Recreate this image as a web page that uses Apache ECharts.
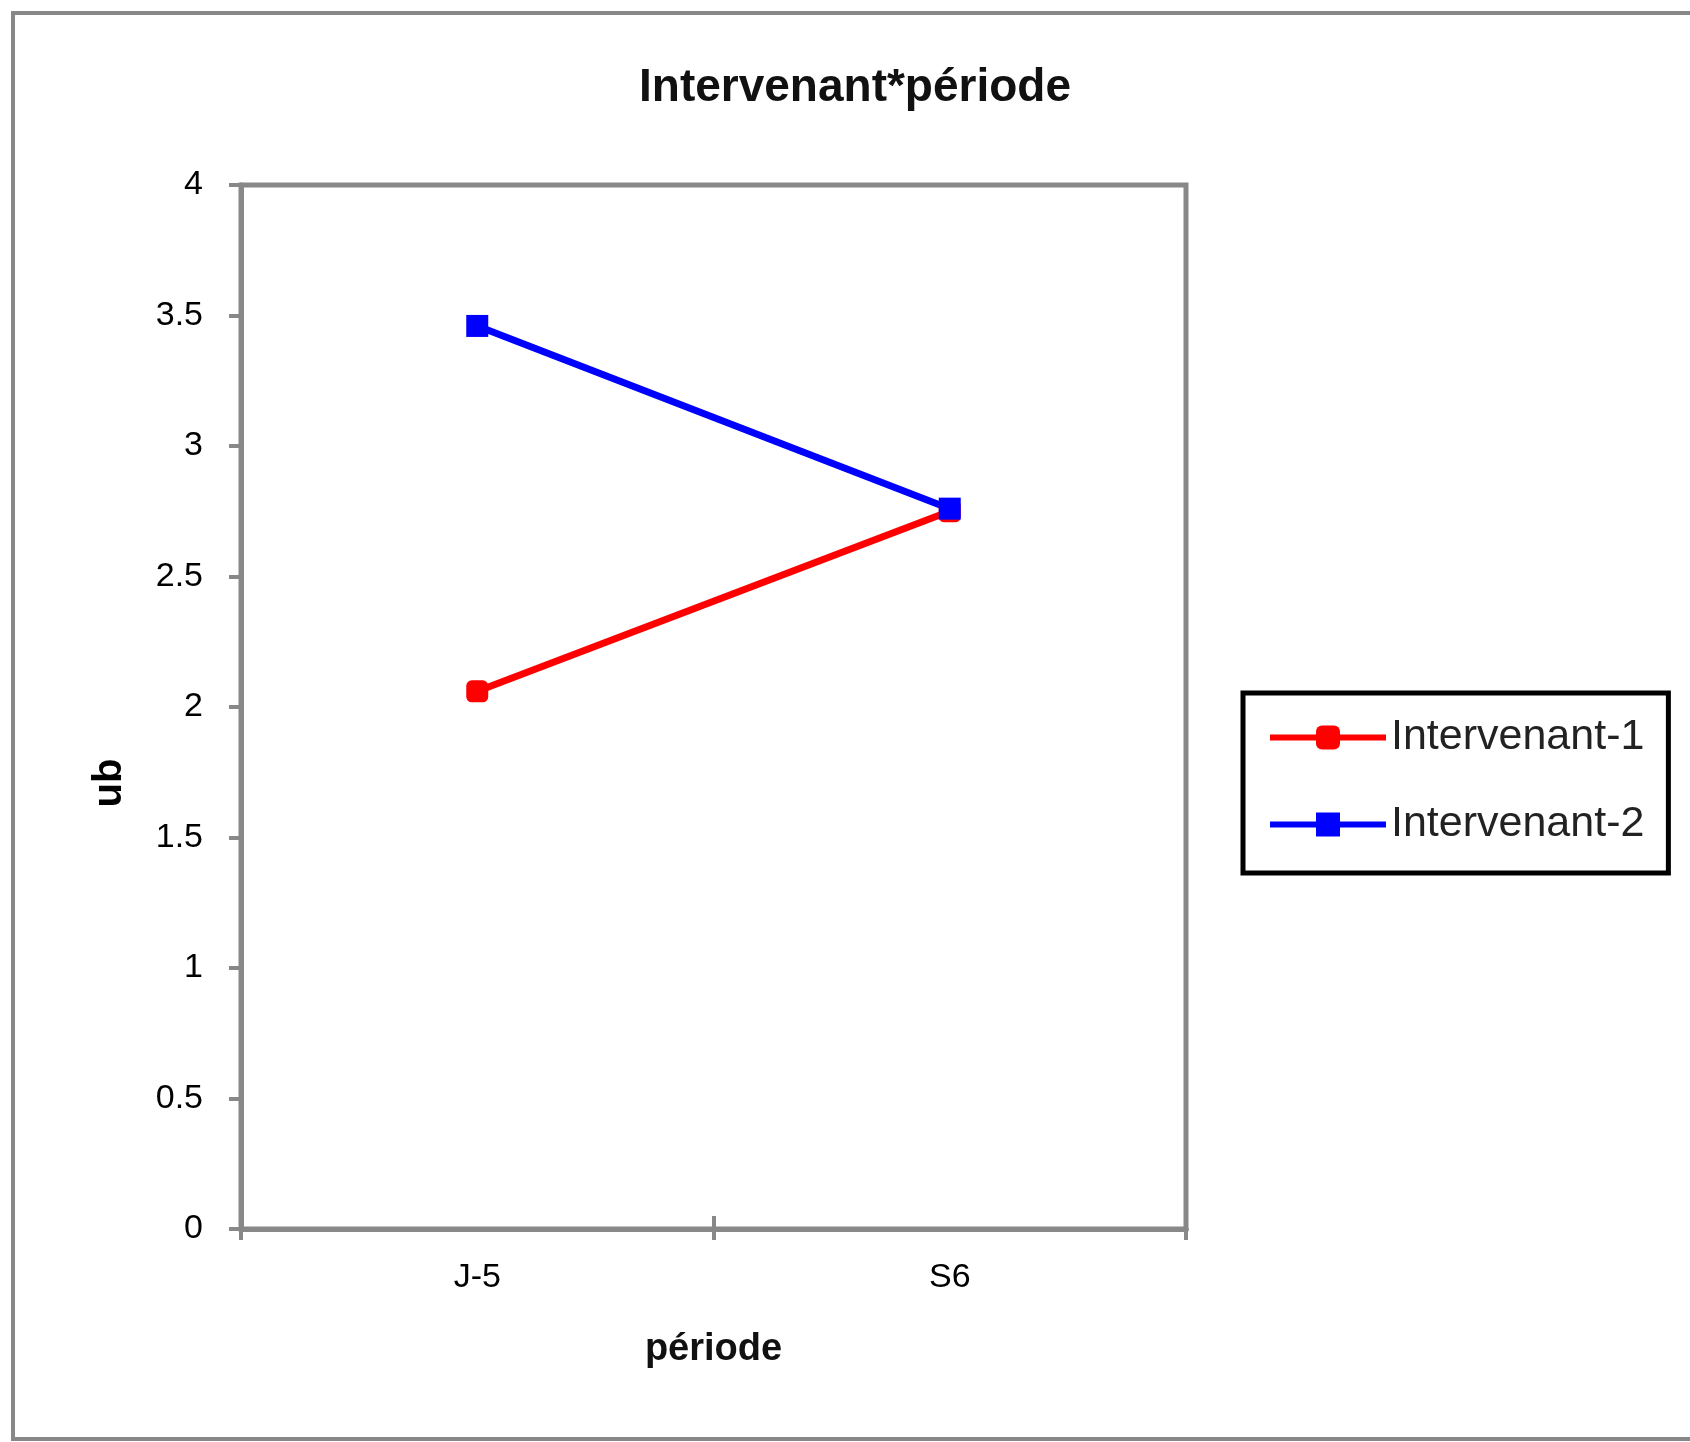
<!DOCTYPE html>
<html>
<head>
<meta charset="utf-8">
<script src="https://cdn.jsdelivr.net/npm/echarts@6/dist/echarts.min.js"></script>
<style>
html,body{margin:0;padding:0;background:#fff;}
#frame{position:absolute;left:11px;top:11px;width:1700px;height:1430px;border:4px solid #888;border-right:none;box-sizing:border-box;}
#chart{position:absolute;left:0;top:0;width:1690px;height:1442px;}
</style>
</head>
<body>
<div id="frame"></div>
<div id="chart"></div>
<script>
const titleText = 'Intervenant*période';
const categories = ['J-5', 'S6'];
const seriesNames = ['Intervenant-1', 'Intervenant-2'];
const values1 = [2.06, 2.75];
const values2 = [3.46, 2.76];
const yMin = 0, yMax = 4, yStep = 0.5;
const xName = 'période';
const yName = 'qn';

const FONT = '"Liberation Sans", Arial, sans-serif';
const chart = echarts.init(document.getElementById('chart'), null, {renderer: 'canvas'});
const grid = {left: 241, right: 504, top: 185, bottom: 213, show: true, borderColor: '#888', borderWidth: 5, containLabel: false};

chart.setOption({
  backgroundColor: 'transparent',
  animation: false,
  title: {
    text: titleText, left: 634, top: 60,
    textStyle: {fontFamily: FONT, fontSize: 46, fontWeight: 'bold', color: '#111'}
  },
  legend: {
    orient: 'vertical', left: 1243, top: 693,
    data: seriesNames,
    borderColor: '#000', borderWidth: 5, borderRadius: 0,
    padding: [23, 24, 27, 24],
    itemGap: 44, itemWidth: 116, itemHeight: 30,
    lineStyle: {width: 6},
    textStyle: {fontFamily: FONT, fontSize: 43, color: '#222'}
  },
  grid: grid,
  xAxis: [{
    type: 'category', data: categories, boundaryGap: true,
    name: xName, nameLocation: 'middle', nameGap: 102,
    nameTextStyle: {fontFamily: FONT, fontSize: 38, fontWeight: 'bold', color: '#111'},
    axisLine: {lineStyle: {color: '#888', width: 5}},
    axisTick: {show: true, inside: false, length: 11, lineStyle: {color: '#888', width: 4}},
    axisLabel: {fontFamily: FONT, fontSize: 34, color: '#000', margin: 32},
    splitLine: {show: false}
  }, {
    type: 'category', data: categories, boundaryGap: true, position: 'bottom',
    axisLine: {show: true, lineStyle: {color: '#888', width: 5}},
    axisTick: {show: true, inside: true, length: 13, lineStyle: {color: '#888', width: 4}},
    axisLabel: {show: false}, splitLine: {show: false}
  }],
  yAxis: [{
    type: 'value', min: yMin, max: yMax, interval: yStep, position: 'left',
    axisLine: {show: true, onZero: false, lineStyle: {color: '#888', width: 5}},
    axisTick: {show: true, inside: false, length: 12, lineStyle: {color: '#888', width: 4}},
    axisLabel: {fontFamily: FONT, fontSize: 34, color: '#000', margin: 38},
    splitLine: {show: false}
  }],
  series: [{
    name: seriesNames[0], type: 'line', data: values1,
    xAxisIndex: 1, yAxisIndex: 0,
    symbol: 'roundRect', symbolSize: 22, showSymbol: true,
    lineStyle: {color: '#ff0000', width: 7},
    itemStyle: {color: '#ff0000'}
  }, {
    name: seriesNames[1], type: 'line', data: values2,
    xAxisIndex: 0, yAxisIndex: 0,
    symbol: 'rect', symbolSize: 22, showSymbol: true,
    lineStyle: {color: '#0000ff', width: 7},
    itemStyle: {color: '#0000ff'}
  }],
  graphic: [{
    type: 'text', x: 110, y: 783, rotation: -Math.PI / 2,
    style: {text: yName, font: 'bold 40px ' + FONT, fill: '#000', textAlign: 'center', textVerticalAlign: 'middle'}
  }]
});
</script>
</body>
</html>
